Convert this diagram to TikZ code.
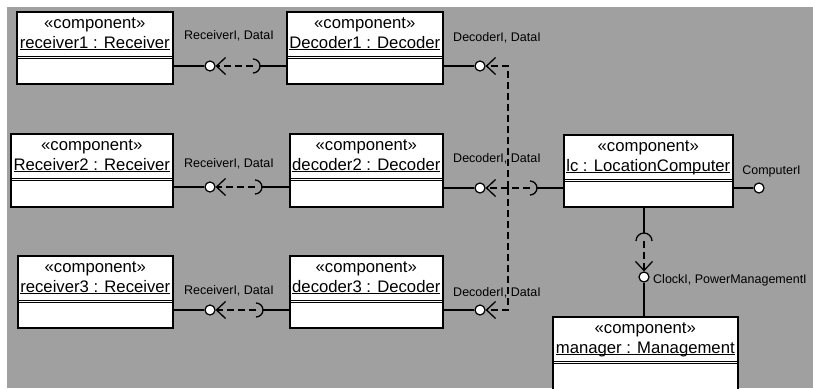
\documentclass[tikz,border=0pt]{standalone}
\usepackage{fontspec}
\setmainfont{Liberation Sans}
\usetikzlibrary{arrows.meta,calc}
\definecolor{bggray}{HTML}{A0A0A0}
\newcommand\myul[1]{\setbox0\hbox{#1}\rlap{\rule[-2.3pt]{\wd0}{0.9pt}}\box0}
\tikzset{
  compbox/.style={draw, line width=1.6pt, fill=white, anchor=north west, inner sep=0pt},
  bigtxt/.style={font=\fontsize{16.7}{18}\selectfont, inner sep=0pt, anchor=base},
  lbl/.style={font=\fontsize{12.5}{14}\selectfont, inner sep=0pt, anchor=base},
  prov/.style={circle, draw, fill=white, line width=1.2pt, minimum size=10pt, inner sep=0pt},
  conn/.style={line width=1.3pt},
  sep/.style={line width=1pt},
  dep/.style={line width=2.2pt, dash pattern=on 7pt off 4pt,
    -{Straight Barb[length=9pt,width=17pt,line width=1.3pt]}},
}
% id, x, y, w, h, name
\newcommand\compbox[6]{%
  \node[compbox, minimum width=#4pt, minimum height=#5pt] (#1) at (#2,#3) {};
  \node[bigtxt] (#1-st) at ($(#1.north)+(0,17)$) {«component»};
  \node[bigtxt] (#1-nm) at ($(#1.north)+(0,37)$) {\myul{#6}};
  \draw[sep] ($(#1.north west)+(0,45)$) -- ($(#1.north east)+(0,45)$);
  \draw[sep] ($(#1.north west)+(0,47.3)$) -- ($(#1.north east)+(0,47.3)$);
}
\newcommand\rsock[1]{\draw[conn] ($(#1)+(0,-7)$) arc[start angle=-90, end angle=90, radius=7];}
\begin{document}
\begin{tikzpicture}[x=1pt,y=-1pt]
\clip (0,0) rectangle (813,388);
\fill[white] (0,0) rectangle (813,388);
\fill[bggray] (7,7) rectangle (813,388);

% labels (under the lines)
\node[lbl] (l1) at (229,39.5) {ReceiverI, DataI};
\node[lbl] (l2) at (229,167) {ReceiverI, DataI};
\node[lbl] (l3) at (229,294) {ReceiverI, DataI};
\node[lbl] (l4) at (497,41) {DecoderI, DataI};
\node[lbl] (l5) at (497,162) {DecoderI, DataI};
\node[lbl] (l6) at (497,296) {DecoderI, DataI};
\node[lbl] (l7) at (771.5,174) {ComputerI};
\node[lbl, anchor=base west] (l8) at (653,283) {ClockI, PowerManagementI};

% components
\compbox{r1}{16}{11}{156}{72}{receiver1 : Receiver}
\compbox{r2}{10}{133}{162}{73}{Receiver2 : Receiver}
\compbox{r3}{17}{255}{155}{72}{receiver3 : Receiver}
\compbox{d1}{286}{11}{156}{72}{Decoder1 : Decoder}
\compbox{d2}{289}{133}{153}{73}{decoder2 : Decoder}
\compbox{d3}{289}{255}{153}{72}{decoder3 : Decoder}
\compbox{lc}{563}{134}{169}{72}{lc : LocationComputer}
\compbox{mg}{552}{316}{185}{90}{manager : Management}

% sockets (required interfaces)
\coordinate (s1) at (253,66);
\coordinate (s2) at (255,187);
\coordinate (s3) at (256,310);
\coordinate (s4) at (530,188);
\coordinate (s5) at (644,241);
\coordinate (j)  at (508,188);

% provided interfaces
\node[prov] (p1) at (210,66) {};
\node[prov] (p2) at (210,187) {};
\node[prov] (p3) at (210,310) {};
\node[prov] (q1) at (480,66) {};
\node[prov] (q2) at (480,188) {};
\node[prov] (q3) at (480,310) {};
\node[prov] (pc) at (759,188) {};
\node[prov] (pm) at (644,277) {};

% solid connectors
\draw[conn] (r1.east |- p1) -- (p1);
\draw[conn] (r2.east |- p2) -- (p2);
\draw[conn] (r3.east |- p3) -- (p3);
\draw[conn] (d1.east |- q1) -- (q1);
\draw[conn] (d2.east |- q2) -- (q2);
\draw[conn] (d3.east |- q3) -- (q3);
\draw[conn] (lc.east |- pc) -- (pc);
\draw[conn] (d1.west |- s1) -- ($(s1)+(7,0)$);
\draw[conn] (d2.west |- s2) -- ($(s2)+(7,0)$);
\draw[conn] (d3.west |- s3) -- ($(s3)+(7,0)$);
\draw[conn] (lc.west |- s4) -- ($(s4)+(7,0)$);
\draw[conn] (s5 |- lc.south) -- ($(s5)+(0,-8)$);
\draw[conn] (pm) -- (pm |- mg.north);

\rsock{s1}
\rsock{s2}
\rsock{s3}
\rsock{s4}
\draw[conn] ($(s5)+(-8,0)$) arc[start angle=180, end angle=360, radius=8];

% dependencies
\draw[dep] (s1) -- (p1);
\draw[dep] (s2) -- (p2);
\draw[dep] (s3) -- (p3);
\draw[dep] (s4) -- (q2);
\draw[dep] (j) |- (q1);
\draw[dep] (j) |- (q3);
\draw[dep] (s5) -- (pm);
\end{tikzpicture}
\end{document}
